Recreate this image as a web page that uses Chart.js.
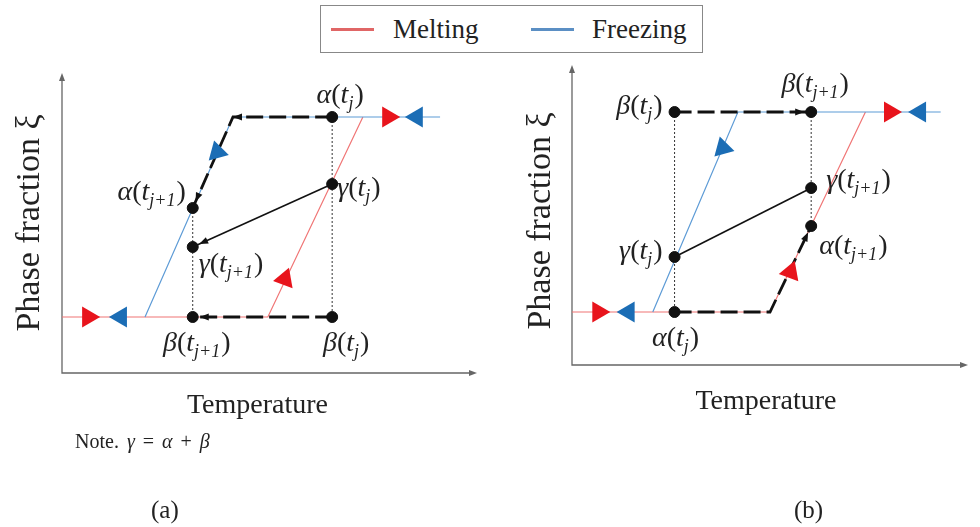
<!DOCTYPE html>
<html>
<head>
<meta charset="utf-8">
<script src="https://cdn.jsdelivr.net/npm/chart.js@4/dist/chart.umd.min.js"></script>
<style>
body{margin:0;background:#fff;width:980px;height:527px;position:relative;overflow:hidden;font-family:"Liberation Serif",serif;color:#222}
canvas{position:absolute;top:0}
#ca{left:0}
#cb{left:490px}
#legend{position:absolute;left:320px;top:5px;width:383px;height:48px;border:1px solid #888;box-sizing:border-box;font-size:27px}
#legend span{position:absolute;top:8px}
#legend i{position:absolute;top:22px;height:3px;width:43px}
.note{position:absolute;left:75px;top:430px;font-size:20px;word-spacing:3px}
.cap{position:absolute;top:496px;font-size:25px}
</style>
</head>
<body>
<div id="legend">
  <i style="left:10px;background:#e06666"></i><span style="left:72px">Melting</span>
  <i style="left:210px;background:#5b8fc4"></i><span style="left:271px">Freezing</span>
</div>
<canvas id="ca" width="490" height="527"></canvas>
<canvas id="cb" width="490" height="527"></canvas>
<div class="note">Note. <i>γ</i> = <i>α</i> + <i>β</i></div>
<div class="cap" style="left:151px">(a)</div>
<div class="cap" style="left:794px">(b)</div>

<script>
// ---------- panel (a) : temperature 0..100, phase fraction 0..1 ----------
var meltA   = [[0,0],[49.6,0],[72.5,1]];
var freezeA = [[20,0],[41.2,1],[91.1,1]];
var tjA = 65.1, tj1A = 31.5;
var alphaA = [1, 0.545];
var betaA  = [0, 0];
var gammaA = [0.665, 0.35];
var cornerA = [41.2, 1];
var meltMarkA   = [[6.3,0],[53.7,0.19],[78.6,1]];
var freezeMarkA = [[14.2,0],[37.4,0.825],[85.5,1]];

// ---------- panel (b) ----------
var meltB   = [[0,0],[50,0],[74.1,1]];
var freezeB = [[20.4,0],[41.9,1],[93.1,1]];
var tjB = 25.9, tj1B = 60.4;
var alphaB = [0, 0.43];
var betaB  = [1, 1];
var gammaB = [0.275, 0.62];
var cornerB = [50, 0];
var meltMarkB   = [[6.65,0],[55.2,0.2],[80.3,1]];
var freezeMarkB = [[14.3,0],[38.1,0.82],[87.9,1]];

var RED = '#e8141c', BLUE = '#1b6db5';
var meltRot = [90, 20, 90], freezeRot = [270, 105, 270];

function pts(a){ return a.map(function(p){ return {x:p[0], y:p[1]}; }); }

var sketch = {
  id: 'sketch',
  beforeDatasetsDraw: function(chart, args, o){
    var c = chart.ctx, a = chart.chartArea;
    c.save();
    c.strokeStyle = '#666'; c.fillStyle = '#666'; c.lineWidth = 1.3;
    c.beginPath();
    c.moveTo(a.left, a.top + 4); c.lineTo(a.left, a.bottom); c.lineTo(a.right - 4, a.bottom);
    c.stroke();
    c.beginPath();
    c.moveTo(a.left, a.top); c.lineTo(a.left - 3, a.top + 8); c.lineTo(a.left + 3, a.top + 8); c.closePath(); c.fill();
    c.beginPath();
    c.moveTo(a.right, a.bottom); c.lineTo(a.right - 8, a.bottom - 3); c.lineTo(a.right - 8, a.bottom + 3); c.closePath(); c.fill();
    c.restore();
  },
  afterDatasetsDraw: function(chart, args, o){
    var c = chart.ctx, a = chart.chartArea, xs = chart.scales.x, ys = chart.scales.y;
    c.save();
    // arrow heads on black paths
    chart.data.datasets.forEach(function(ds){
      (ds.arrows || []).forEach(function(ar){
        var p0 = ds.data[ar[0]-1], p1 = ds.data[ar[0]];
        var x0 = xs.getPixelForValue(p0.x), y0 = ys.getPixelForValue(p0.y);
        var x1 = xs.getPixelForValue(p1.x), y1 = ys.getPixelForValue(p1.y);
        var ang = Math.atan2(y1 - y0, x1 - x0);
        var tx = x1 - ar[1]*Math.cos(ang), ty = y1 - ar[1]*Math.sin(ang);
        c.fillStyle = '#111';
        c.beginPath();
        c.moveTo(tx, ty);
        c.lineTo(tx - 9*Math.cos(ang) + 3.5*Math.sin(ang), ty - 9*Math.sin(ang) - 3.5*Math.cos(ang));
        c.lineTo(tx - 9*Math.cos(ang) - 3.5*Math.sin(ang), ty - 9*Math.sin(ang) + 3.5*Math.cos(ang));
        c.closePath(); c.fill();
      });
    });
    // point labels like α(t_j)
    c.fillStyle = '#222'; c.textBaseline = 'middle';
    (o.labels || []).forEach(function(l){
      var parts = [[l.g,'italic 28px',0],['(','28px',0],['t','italic 28px',0],[l.s,'italic 18px',8],[')','28px',0]];
      var w = 0;
      parts.forEach(function(p){ c.font = p[1] + ' "Liberation Serif"'; p.push(c.measureText(p[0]).width); w += p[3] + (p[2] ? 1 : 0); });
      var x = xs.getPixelForValue(l.at[0]) + l.dx, y = ys.getPixelForValue(l.at[1]) + l.dy;
      if (l.align == 'center') x -= w/2; else if (l.align == 'right') x -= w;
      parts.forEach(function(p){
        c.font = p[1] + ' "Liberation Serif"';
        c.fillText(p[0], x, y + p[2]);
        x += p[3] + (p[2] ? 1 : 0);
      });
    });
    // axis titles
    c.textAlign = 'center';
    c.font = '28px "Liberation Serif"';
    c.fillText('Temperature', (a.left + a.right)/2 + o.xt[0], a.bottom + o.xt[1]);
    c.translate(a.left + o.yt[0], (a.top + a.bottom)/2 + o.yt[1]);
    c.rotate(-Math.PI/2);
    c.font = '34px "Liberation Serif"';
    c.fillText('Phase fraction ξ', 0, 0);
    c.restore();
  }
};

function line(d, color, width, dash, arrows, order){
  return {data: pts(d), showLine:true, pointRadius:0, borderColor:color, borderWidth:width,
          borderDash:dash || [], arrows:arrows || [], order:order, clip:false};
}

function panel(id, d, pad, yr, labels, xt, yt){
  var ds = [
    line(d.melt, '#f07575', 1.2, null, null, 9),
    line(d.freeze, '#5d9bd6', 1.2, null, null, 8),
    line(d.dot1, '#333', 1, [2,2], null, 7),
    line(d.dot2, '#333', 1, [2,2], null, 7),
    line(d.path1, '#111', 2.8, [17,6], d.arr1, 5),
    line(d.path2, '#111', 2.8, [17,6], d.arr2, 5),
    line(d.pathG, '#111', 1.6, null, d.arrG, 5),
    {data: pts(d.melt_m), showLine:false, pointStyle:'triangle', pointRadius:12, pointRotation:meltRot,
     backgroundColor:RED, borderColor:RED, pointBorderWidth:0, order:3, clip:false},
    {data: pts(d.freeze_m), showLine:false, pointStyle:'triangle', pointRadius:12, pointRotation:freezeRot,
     backgroundColor:BLUE, borderColor:BLUE, pointBorderWidth:0, order:3, clip:false},
    {data: pts(d.dots), showLine:false, pointRadius:5.5, backgroundColor:'#111', borderColor:'#111', order:1, clip:false}
  ];
  return new Chart(document.getElementById(id), {
    type: 'scatter',
    data: {datasets: ds},
    options: {
      responsive:false, animation:false, devicePixelRatio:1,
      layout:{padding:pad},
      scales:{
        x:{type:'linear', display:false, min:0, max:100},
        y:{type:'linear', display:false, min:yr[0], max:yr[1]}
      },
      elements:{line:{tension:0, fill:false}},
      plugins:{legend:{display:false}, tooltip:{enabled:false},
               sketch:{labels:labels, xt:xt, yt:yt}}
    },
    plugins:[sketch]
  });
}

panel('ca', {
  melt: meltA, freeze: freezeA,
  dot1: [[tjA,alphaA[0]],[tjA,betaA[0]]], dot2: [[tj1A,alphaA[1]],[tj1A,betaA[1]]],
  path1: [[tjA,alphaA[0]], cornerA, [tj1A,alphaA[1]]], arr1: [[1,0],[2,7]],
  path2: [[tjA,betaA[0]],[tj1A,betaA[1]]], arr2: [[1,7]],
  pathG: [[tjA,gammaA[0]],[tj1A,gammaA[1]]], arrG: [[1,7]],
  melt_m: meltMarkA, freeze_m: freezeMarkA,
  dots: [[tjA,alphaA[0]],[tjA,gammaA[0]],[tjA,betaA[0]],[tj1A,alphaA[1]],[tj1A,gammaA[1]],[tj1A,betaA[1]]]
}, {left:62, top:73, right:13, bottom:154}, [-0.28, 1.22], [
  {g:'α', s:'j',   at:[tjA,alphaA[0]],  dx:8,  dy:-21, align:'center'},
  {g:'γ', s:'j',   at:[tjA,gammaA[0]],  dx:5,  dy:5,   align:'left'},
  {g:'β', s:'j',   at:[tjA,betaA[0]],   dx:14, dy:27,  align:'center'},
  {g:'α', s:'j+1', at:[tj1A,alphaA[1]], dx:-7, dy:-15, align:'right'},
  {g:'γ', s:'j+1', at:[tj1A,gammaA[1]], dx:6,  dy:18,  align:'left'},
  {g:'β', s:'j+1', at:[tj1A,betaA[1]],  dx:4,  dy:27,  align:'center'}
], [-12, 33], [-32, 0]);

panel('cb', {
  melt: meltB, freeze: freezeB,
  dot1: [[tjB,betaB[0]],[tjB,alphaB[0]]], dot2: [[tj1B,betaB[1]],[tj1B,alphaB[1]]],
  path1: [[tjB,betaB[0]],[tj1B,betaB[1]]], arr1: [[1,7]],
  path2: [[tjB,alphaB[0]], cornerB, [tj1B,alphaB[1]]], arr2: [[2,7]],
  pathG: [[tjB,gammaB[0]],[tj1B,gammaB[1]]], arrG: [],
  melt_m: meltMarkB, freeze_m: freezeMarkB,
  dots: [[tjB,betaB[0]],[tjB,gammaB[0]],[tjB,alphaB[0]],[tj1B,betaB[1]],[tj1B,gammaB[1]],[tj1B,alphaB[1]]]
}, {left:82, top:65, right:2, bottom:162}, [-0.265, 1.235], [
  {g:'β', s:'j',   at:[tjB,betaB[0]],   dx:-12, dy:-5,  align:'right'},
  {g:'β', s:'j+1', at:[tj1B,betaB[1]],  dx:4,   dy:-27, align:'center'},
  {g:'γ', s:'j',   at:[tjB,gammaB[0]],  dx:-12, dy:-5,  align:'right'},
  {g:'α', s:'j',   at:[tjB,alphaB[0]],  dx:1,   dy:27,  align:'center'},
  {g:'γ', s:'j+1', at:[tj1B,gammaB[1]], dx:15,  dy:-7,  align:'left'},
  {g:'α', s:'j+1', at:[tj1B,alphaB[1]], dx:8,   dy:21,  align:'left'}
], [-4, 37], [-31, 6]);
</script>
</body>
</html>
